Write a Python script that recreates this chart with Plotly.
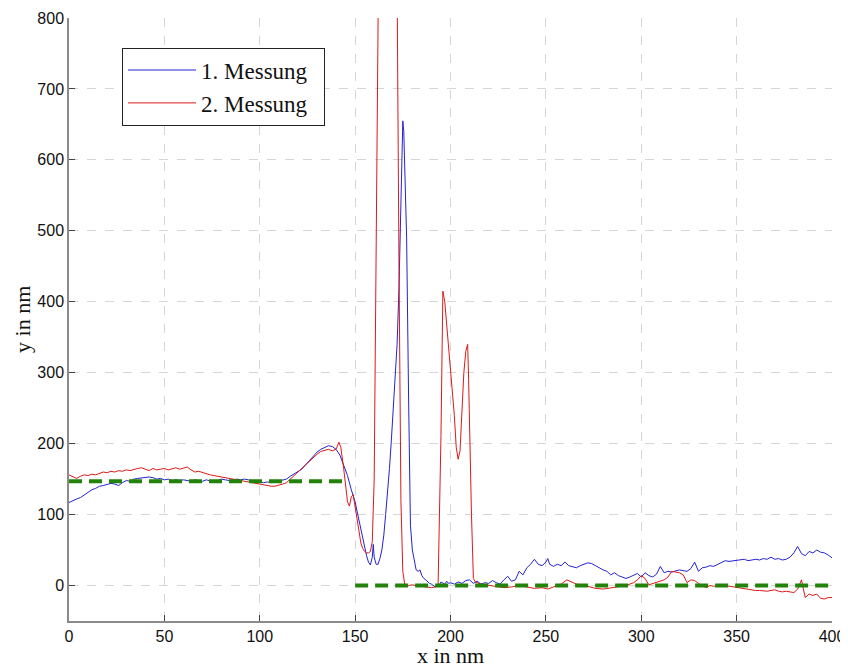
import plotly.graph_objects as go

# ---- data ----
blue_x = [0,2,4,6,8,10,12,14,16,18,20,22,24,26,28,30,32,34,36,38,40,42,44,46,48,50,52,54,56,58,60,62,64,66,68,70,72,74,76,78,80,82,84,86,88,90,92,94,96,98,100,102,104,106,108,110,112,114,116,118,120,122,124,126,128,130,132,134,136,138,140,142,144,146,148,150,151,152,153,154,155,156,157,158,159,159.5,160,161,162,163,164,165,166,167,168,169,170,171,172,173,174,175,175.5,176,177,178,178.5,179,180,181,182,183,184,185,186,187,188,189,190,191,192,193,194,195,196,197,198,199,200,202,204,206,208,210,212,214,216,218,220,222,224,226,228,230,232,234,236,238,240,242,244,246,248,250,251,252,254,256,258,260,262,264,266,268,270,272,274,276,278,280,282,284,286,288,290,292,294,296,298,300,302,304,306,308,310,312,314,316,318,320,322,324,326,328,330,332,334,336,338,340,342,344,346,348,350,352,354,356,358,360,362,364,366,368,370,372,374,376,378,380,382,384,386,388,390,392,394,396,398,400]
blue_y = [117,120,122,124,128,132,135,137,140,141,143,144,143,141,145,148,147,150,151,152,152,153,152,150,151,149,150,148,149,148,149,148,147,149,148,147,149,148,146,148,150,149,148,149,150,149,150,149,148,147,146,145,146,145,146,147,148,150,154,157,161,164,170,176,183,188,192,195,197,196,192,184,170,155,135,118,105,92,80,65,52,42,33,29,40,58,40,30,30,38,50,70,100,130,165,205,245,290,340,420,530,655,640,600,490,270,120,85,50,35,22,20,22,14,10,8,5,3,2,0,-2,1,0,5,3,2,6,3,4,2,5,3,7,8,3,6,2,4,3,7,4,2,8,13,6,8,20,15,25,30,37,30,28,33,38,30,27,30,28,33,28,26,25,28,30,32,31,28,24,22,20,15,18,14,12,10,12,14,17,12,18,14,12,16,27,18,20,19,20,22,21,20,24,33,20,25,26,28,27,30,33,35,34,35,36,36,37,35,36,37,36,38,37,40,37,38,36,37,40,46,55,45,42,48,46,50,47,46,43,39]

red_x = [0,2,4,6,8,10,12,14,16,18,20,22,24,26,28,30,32,34,36,38,40,42,44,46,48,50,52,54,56,58,60,62,64,66,68,70,72,74,76,78,80,82,84,86,88,90,92,94,96,98,100,102,104,106,108,110,112,114,116,118,120,122,124,126,128,130,132,134,136,138,140,141.5,142.5,144,145,146,147,148,149,150,151,152,153,154,155,156,157,158,159,160,161,162,163,165,168,171,172,173,174,175,176,178,180,182,184,186,188,190,192,193.5,195,196,197,198,199,200,201,202,203,204,205,206,207,208,209,209.5,210,211,212,213,216,220,224,228,232,236,240,244,248,251,254,258,261,264,266,269,272,276,280,284,288,292,296,298,300,302,304,306,308,310,312,314,316,318,320,322,324,326,328,330,332,334,336,338,340,342,344,346,348,350,352,354,356,358,360,362,364,366,368,370,372,374,376,378,380,382,384,385,386,388,390,392,394,396,398,400]
red_y = [156,153,151,154,156,155,157,156,158,160,159,161,160,162,161,163,162,164,165,166,164,162,165,163,164,165,163,164,166,164,165,167,163,160,161,159,157,156,155,154,152,151,150,149,148,148,147,146,145,143,142,141,140,140,140,141,143,145,150,155,160,165,170,176,181,185,189,191,192,190,192,202,195,165,140,118,112,125,128,110,95,72,60,52,48,46,46,48,62,150,450,780,1100,1300,1300,1100,850,450,120,20,2,0,1,0,-1,-2,-3,-3,-2,2,210,415,400,370,340,310,280,240,195,178,190,240,300,330,340,290,220,100,10,5,2,0,-1,-3,-2,0,-2,-4,-3,-5,-2,2,8,5,2,1,-1,-4,-5,-3,-2,0,4,8,14,10,1,3,4,6,8,12,20,19,18,15,4,8,7,3,0,-3,0,-1,0,-1,0,-1,-2,-3,-4,-4,-5,-6,-7,-7,-8,-8,-7,-6,-8,-9,-8,-9,-10,-5,8,-5,-17,-12,-14,-12,-18,-19,-17,-17]

ref1_x = [0, 145]
ref1_y = [147, 147]
ref2_x = [150, 400]
ref2_y = [0, 0]

x_ticks = [0, 50, 100, 150, 200, 250, 300, 350, 400]
y_ticks = [0, 100, 200, 300, 400, 500, 600, 700, 800]

NB = "\u00a0"

fig = go.Figure()
fig.add_trace(go.Scatter(x=blue_x, y=blue_y, mode="lines", name="1. Messung" + NB * 2,
                         line=dict(color="rgb(35,35,210)", width=1)))
fig.add_trace(go.Scatter(x=red_x, y=red_y, mode="lines", name="2. Messung" + NB * 2,
                         line=dict(color="rgb(220,25,25)", width=1)))
fig.add_trace(go.Scatter(x=ref1_x, y=ref1_y, mode="lines", showlegend=False,
                         line=dict(color="rgb(34,130,10)", width=4, dash="13px,7px")))
fig.add_trace(go.Scatter(x=ref2_x, y=ref2_y, mode="lines", showlegend=False,
                         line=dict(color="rgb(34,130,10)", width=4, dash="13px,7px")))

tickfont = dict(family="Liberation Sans Narrow, Arial Narrow, Liberation Sans", size=16, color="#111")
serif = "Liberation Serif, DejaVu Serif, serif"

# the page body has an 8px margin, so the figure is sized 840x656 to fit the 848x664 window
fig.update_layout(
    width=840, height=656,
    margin=dict(l=61, r=16, t=10, b=43, autoexpand=False),
    paper_bgcolor="white", plot_bgcolor="white",
    showlegend=True,
    legend=dict(x=0.0695, y=0.951, xanchor="left", yanchor="top",
                bordercolor="#222", borderwidth=1, bgcolor="white",
                font=dict(family=serif, size=23, color="#111"),
                itemwidth=68, tracegroupgap=0),
    xaxis=dict(range=[0, 400], tickvals=x_ticks, ticktext=[str(v) for v in x_ticks],
               showgrid=True, gridcolor="#d6d6d6", griddash="dash", gridwidth=1,
               zeroline=False, showline=True, linecolor="#8a8a8a", linewidth=1.5,
               ticks="inside", ticklen=6, tickcolor="#444", tickfont=tickfont,
               automargin=False),
    yaxis=dict(range=[-50, 800], tickvals=y_ticks, ticktext=[str(v) for v in y_ticks],
               showgrid=True, gridcolor="#d6d6d6", griddash="dash", gridwidth=1,
               zeroline=False, showline=True, linecolor="#8a8a8a", linewidth=1.5,
               ticks="inside", ticklen=6, tickcolor="#444", tickfont=tickfont,
               automargin=False),
    annotations=[
        dict(text="x in nm", xref="paper", yref="paper", x=0.5, y=-0.0565,
             xanchor="center", yanchor="middle", showarrow=False,
             font=dict(family=serif, size=22, color="#111")),
        dict(text="y in nm", xref="paper", yref="paper", x=-0.061, y=0.5,
             xanchor="center", yanchor="middle", showarrow=False, textangle=-90,
             font=dict(family=serif, size=22, color="#111")),
    ],
)

fig.write_html("out.html")
